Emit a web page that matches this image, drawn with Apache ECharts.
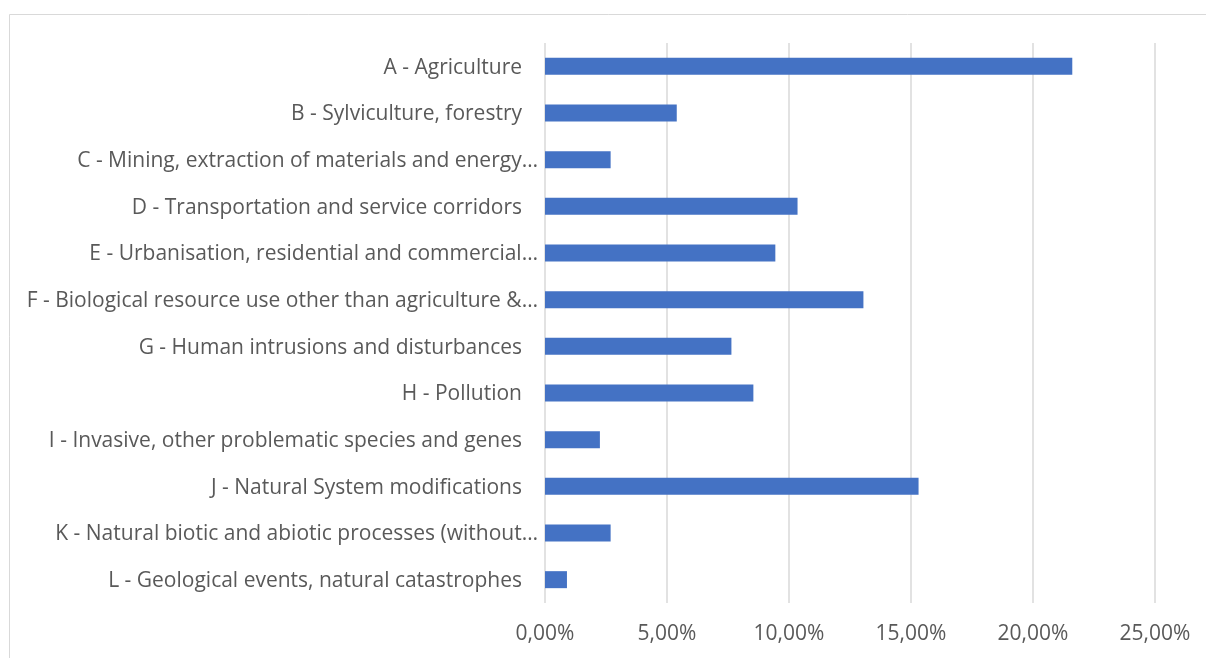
<!DOCTYPE html>
<html>
<head>
<meta charset="utf-8">
<script src="https://cdn.jsdelivr.net/npm/echarts@6/dist/echarts.min.js"></script>
<style>
html,body{margin:0;padding:0;background:#fff;}
#c{width:1206px;height:658px;}
</style>
</head>
<body>
<div id="c"></div>
<script>
const categories = [
  "A - Agriculture",
  "B - Sylviculture, forestry",
  "C - Mining, extraction of materials and energy…",
  "D - Transportation and service corridors",
  "E - Urbanisation, residential and commercial…",
  "F - Biological resource use other than agriculture &…",
  "G - Human intrusions and disturbances",
  "H - Pollution",
  "I - Invasive, other problematic species and genes",
  "J - Natural System modifications",
  "K - Natural biotic and abiotic processes (without…",
  "L - Geological events, natural catastrophes"
];
const values = [21.61, 5.40, 2.69, 10.35, 9.44, 13.05, 7.64, 8.54, 2.25, 15.31, 2.69, 0.90];
const xTicks = [0, 5, 10, 15, 20, 25];

const chart = echarts.init(document.getElementById('c'), null, {renderer: 'canvas'});
const font = '"Open Sans", "Noto Sans", sans-serif';
const fs = 21;
chart.setOption({
  animation: false,
  backgroundColor: '#fff',
  graphic: [{
    type: 'rect', silent: true, z: -1,
    shape: {x: 9.5, y: 14.5, width: 1300, height: 700},
    style: {fill: 'none', stroke: '#d9d9d9', lineWidth: 1}
  }],
  grid: {left: 545, right: 51, top: 43, bottom: 55, containLabel: false},
  xAxis: {
    type: 'value',
    min: xTicks[0], max: xTicks[xTicks.length - 1], interval: 5,
    axisLine: {show: false},
    axisTick: {show: false},
    splitLine: {show: true, lineStyle: {color: '#d9d9d9', width: 1.5}},
    axisLabel: {
      color: '#595959', fontSize: fs, fontFamily: font, margin: 21,
      formatter: v => v.toFixed(2).replace('.', ',') + '%'
    }
  },
  yAxis: {
    type: 'category',
    inverse: true,
    data: categories,
    axisLine: {show: false},
    axisTick: {show: false},
    axisLabel: {
      color: '#595959', fontSize: fs, fontFamily: font, margin: 7,
      formatter: v => v.endsWith('…') ? '{t|' + v + '}' : '{n|' + v + '}',
      rich: {
        t: {color: '#595959', fontSize: fs, fontFamily: font, padding: [3, 0, 0, 0]},
        n: {color: '#595959', fontSize: fs, fontFamily: font, padding: [3, 16, 0, 0]}
      }
    }
  },
  series: [{
    type: 'bar',
    data: values,
    barWidth: 17,
    itemStyle: {color: '#4472c4'}
  }]
});
</script>
</body>
</html>
